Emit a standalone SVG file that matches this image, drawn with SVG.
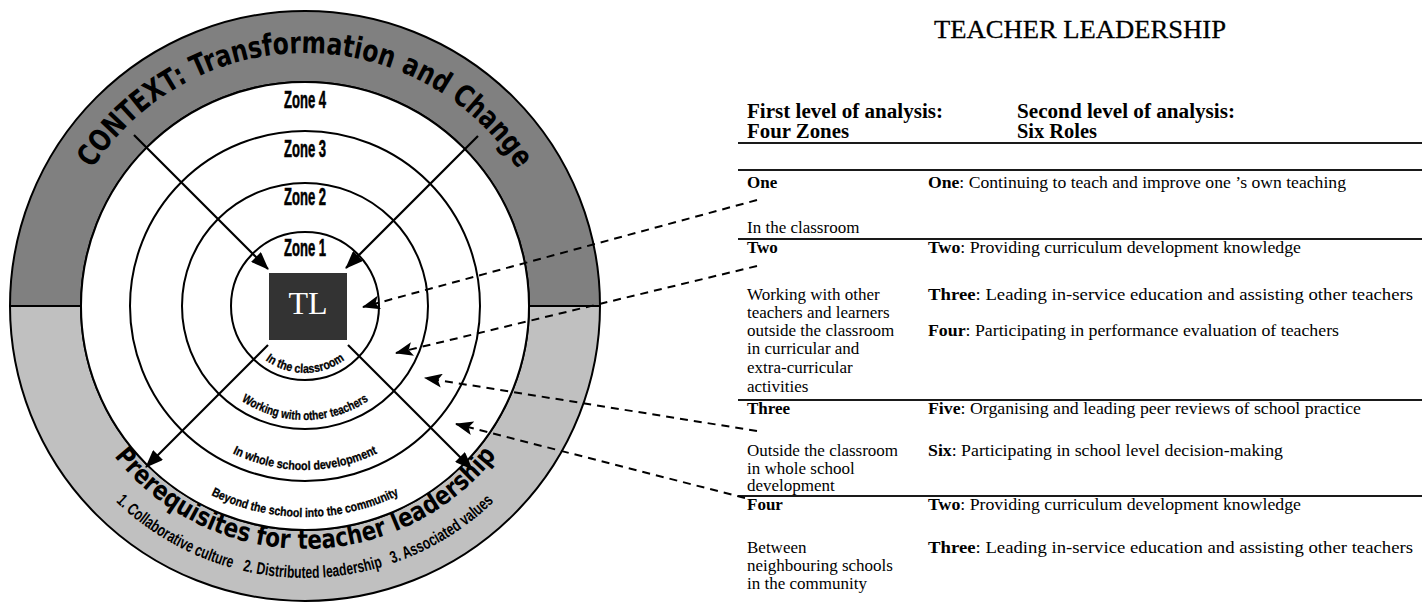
<svg xmlns="http://www.w3.org/2000/svg" width="1427" height="615" viewBox="0 0 1427 615">
<style>
.ringTop{fill:#808080;stroke:#000;stroke-width:2}
.ringBot{fill:#c0c0c0;stroke:#000;stroke-width:2}
.zc{fill:#fff;stroke:#000;stroke-width:2}
.zl{font-family:"Liberation Sans",Arial,sans-serif;font-weight:bold;font-size:23px;text-anchor:middle;fill:#000;stroke:#000;stroke-width:0.6}
.al{font-family:"Liberation Sans",Arial,sans-serif;font-weight:bold;font-size:12.5px;fill:#000;stroke:#000;stroke-width:0.3}
.big{font-family:"DejaVu Sans",sans-serif;font-weight:bold;fill:#000}
.ctx{font-size:30px}
.pre{font-size:26px}
.lst{font-family:"Liberation Sans",Arial,sans-serif;font-weight:bold;font-size:17px;fill:#000}
.t{font-family:"Liberation Serif","Times New Roman",serif;font-size:17px;fill:#000}
.title{font-family:"Liberation Serif","Times New Roman",serif;font-size:26px;fill:#000;text-anchor:middle;stroke:#000;stroke-width:0.3}
.h{font-family:"Liberation Serif","Times New Roman",serif;font-size:20px;font-weight:bold;fill:#000}
.b{font-weight:bold}
.rule{stroke:#1a1a1a;stroke-width:2}
.solid{stroke:#000;stroke-width:2.2;fill:none;marker-end:url(#ah)}
.dash{stroke:#000;stroke-width:2;fill:none;stroke-dasharray:8 6;marker-end:url(#ah2)}
</style>
<defs>
<marker id="ah" markerUnits="userSpaceOnUse" markerWidth="18" markerHeight="14" refX="17" refY="7" orient="auto"><path d="M0,0 L18,7 L0,14 Z" fill="#000"/></marker>
<marker id="ah2" markerUnits="userSpaceOnUse" markerWidth="18" markerHeight="14" refX="17" refY="7" orient="auto"><path d="M0,0 L18,7 L0,14 L4,7 Z" fill="#000"/></marker>
<path id="pTop" d="M52,306 A253,253 0 0 1 558,306"/>
<path id="pPre" d="M62,306 A243,243 0 0 0 548,306"/>
<path id="pLst" d="M33,306 A272,272 0 0 0 577,306"/>
<path id="p1" d="M238,306 A67,67 0 0 0 372,306"/>
<path id="p2" d="M191,306 A114,114 0 0 0 419,306"/>
<path id="p3" d="M141,306 A164,164 0 0 0 469,306"/>
<path id="p4" d="M94,306 A211,211 0 0 0 516,306"/>
</defs>
<rect width="1427" height="615" fill="#fff"/>

<g id="context-ring">
<path class="ringTop" d="M10,306 A295,295 0 0 1 600,306 L529,306 A224,224 0 0 0 81,306 Z"/>
<path class="ringBot" d="M10,306 A295,295 0 0 0 600,306 L529,306 A224,224 0 0 1 81,306 Z"/>
<text class="big ctx"><textPath href="#pTop" startOffset="145" textLength="131" lengthAdjust="spacingAndGlyphs">CONTEXT:</textPath></text>
<text class="big ctx"><textPath href="#pTop" startOffset="284" textLength="202" lengthAdjust="spacingAndGlyphs">Transformation</textPath></text>
<text class="big ctx"><textPath href="#pTop" startOffset="495" textLength="49" lengthAdjust="spacingAndGlyphs">and</textPath></text>
<text class="big ctx"><textPath href="#pTop" startOffset="552" textLength="98" lengthAdjust="spacingAndGlyphs">Change</textPath></text>
<text class="big pre"><textPath href="#pPre" startOffset="162" textLength="162" lengthAdjust="spacingAndGlyphs">Prerequisites</textPath></text>
<text class="big pre"><textPath href="#pPre" startOffset="331" textLength="35" lengthAdjust="spacingAndGlyphs">for</textPath></text>
<text class="big pre"><textPath href="#pPre" startOffset="374" textLength="92" lengthAdjust="spacingAndGlyphs">teacher</textPath></text>
<text class="big pre"><textPath href="#pPre" startOffset="474" textLength="128" lengthAdjust="spacingAndGlyphs">leadership</textPath></text>
<text class="lst"><textPath href="#pLst" startOffset="218" textLength="135" lengthAdjust="spacingAndGlyphs">1. Collaborative culture</textPath></text>
<text class="lst"><textPath href="#pLst" startOffset="364" textLength="142" lengthAdjust="spacingAndGlyphs">2. Distributed leadership</textPath></text>
<text class="lst"><textPath href="#pLst" startOffset="516" textLength="120" lengthAdjust="spacingAndGlyphs">3. Associated values</textPath></text>
</g>

<g id="zone4">
<circle class="zc" cx="305" cy="306" r="224"/>
<text class="zl" x="305" y="108" textLength="42" lengthAdjust="spacingAndGlyphs">Zone 4</text>
<text class="al"><textPath href="#p4" startOffset="50%" text-anchor="middle" textLength="195" lengthAdjust="spacingAndGlyphs">Beyond the school into the community</textPath></text>
</g>
<g id="zone3">
<circle class="zc" cx="305" cy="306" r="175"/>
<text class="zl" x="305" y="157" textLength="42" lengthAdjust="spacingAndGlyphs">Zone 3</text>
<text class="al"><textPath href="#p3" startOffset="50%" text-anchor="middle" textLength="150" lengthAdjust="spacingAndGlyphs">In whole school development</textPath></text>
</g>
<g id="zone2">
<circle class="zc" cx="305" cy="306" r="123"/>
<text class="zl" x="305" y="205" textLength="42" lengthAdjust="spacingAndGlyphs">Zone 2</text>
<text class="al"><textPath href="#p2" startOffset="50%" text-anchor="middle" textLength="135" lengthAdjust="spacingAndGlyphs">Working with other teachers</textPath></text>
</g>
<g id="zone1">
<circle class="zc" cx="305" cy="306" r="74"/>
<text class="zl" x="305" y="256" textLength="42" lengthAdjust="spacingAndGlyphs">Zone 1</text>
<text class="al"><textPath href="#p1" startOffset="50%" text-anchor="middle" textLength="85" lengthAdjust="spacingAndGlyphs">In the classroom</textPath></text>
</g>

<g id="tl">
<rect x="269" y="273" width="78" height="67" fill="#333"/>
<text x="308" y="314" font-family="Liberation Serif,Times New Roman,serif" font-size="32" fill="#fff" text-anchor="middle">TL</text>
</g>

<g id="table">
<text class="title" x="1080" y="38" textLength="292" lengthAdjust="spacingAndGlyphs">TEACHER LEADERSHIP</text>
<text class="h" x="747" y="118" textLength="196" lengthAdjust="spacingAndGlyphs">First level of analysis:</text>
<text class="h" x="747" y="138" textLength="102" lengthAdjust="spacingAndGlyphs">Four Zones</text>
<text class="h" x="1017" y="118" textLength="218" lengthAdjust="spacingAndGlyphs">Second level of analysis:</text>
<text class="h" x="1017" y="138" textLength="80" lengthAdjust="spacingAndGlyphs">Six Roles</text>
<line class="rule" x1="738" y1="143" x2="1422" y2="143"/>
<line class="rule" x1="738" y1="170" x2="1422" y2="170"/>

<text class="t b" x="747" y="188">One</text>
<text class="t" x="928" y="188" textLength="418" lengthAdjust="spacingAndGlyphs"><tspan class="b">One</tspan>: Continuing to teach and improve one ’s own teaching</text>
<text class="t" x="747" y="233">In the classroom</text>
<line class="rule" x1="738" y1="239" x2="1422" y2="239"/>

<text class="t b" x="747" y="253">Two</text>
<text class="t" x="928" y="253" textLength="373" lengthAdjust="spacingAndGlyphs"><tspan class="b">Two</tspan>: Providing curriculum development knowledge</text>
<text class="t" x="747" y="300">Working with other</text>
<text class="t" x="928" y="300" textLength="485" lengthAdjust="spacingAndGlyphs"><tspan class="b">Three</tspan>: Leading in-service education and assisting other teachers</text>
<text class="t" x="747" y="318">teachers and learners</text>
<text class="t" x="747" y="336">outside the classroom</text>
<text class="t" x="928" y="336" textLength="411" lengthAdjust="spacingAndGlyphs"><tspan class="b">Four</tspan>: Participating in performance evaluation of teachers</text>
<text class="t" x="747" y="354">in curricular and</text>
<text class="t" x="747" y="373">extra-curricular</text>
<text class="t" x="747" y="392">activities</text>
<line class="rule" x1="738" y1="400" x2="1422" y2="400"/>

<text class="t b" x="747" y="414">Three</text>
<text class="t" x="928" y="414" textLength="433" lengthAdjust="spacingAndGlyphs"><tspan class="b">Five</tspan>: Organising and leading peer reviews of school practice</text>
<text class="t" x="747" y="456">Outside the classroom</text>
<text class="t" x="928" y="456" textLength="355" lengthAdjust="spacingAndGlyphs"><tspan class="b">Six</tspan>: Participating in school level decision-making</text>
<text class="t" x="747" y="474">in whole school</text>
<text class="t" x="747" y="491">development</text>
<line class="rule" x1="738" y1="496" x2="1422" y2="496"/>

<text class="t b" x="747" y="510">Four</text>
<text class="t" x="928" y="510" textLength="373" lengthAdjust="spacingAndGlyphs"><tspan class="b">Two</tspan>: Providing curriculum development knowledge</text>
<text class="t" x="747" y="553">Between</text>
<text class="t" x="928" y="553" textLength="485" lengthAdjust="spacingAndGlyphs"><tspan class="b">Three</tspan>: Leading in-service education and assisting other teachers</text>
<text class="t" x="747" y="571">neighbouring schools</text>
<text class="t" x="747" y="589">in the community</text>
</g>

<g id="connectors">
<line class="solid" x1="134" y1="135" x2="268" y2="269"/>
<line class="solid" x1="478" y1="136" x2="346" y2="268"/>
<line class="solid" x1="268" y1="345" x2="146" y2="467"/>
<line class="solid" x1="348" y1="345" x2="472" y2="469"/>
<line class="dash" x1="757" y1="200" x2="363" y2="307"/>
<line class="dash" x1="757" y1="266" x2="396" y2="353"/>
<line class="dash" x1="757" y1="431" x2="425" y2="378"/>
<line class="dash" x1="745" y1="498" x2="456" y2="424"/>
</g>
</svg>
